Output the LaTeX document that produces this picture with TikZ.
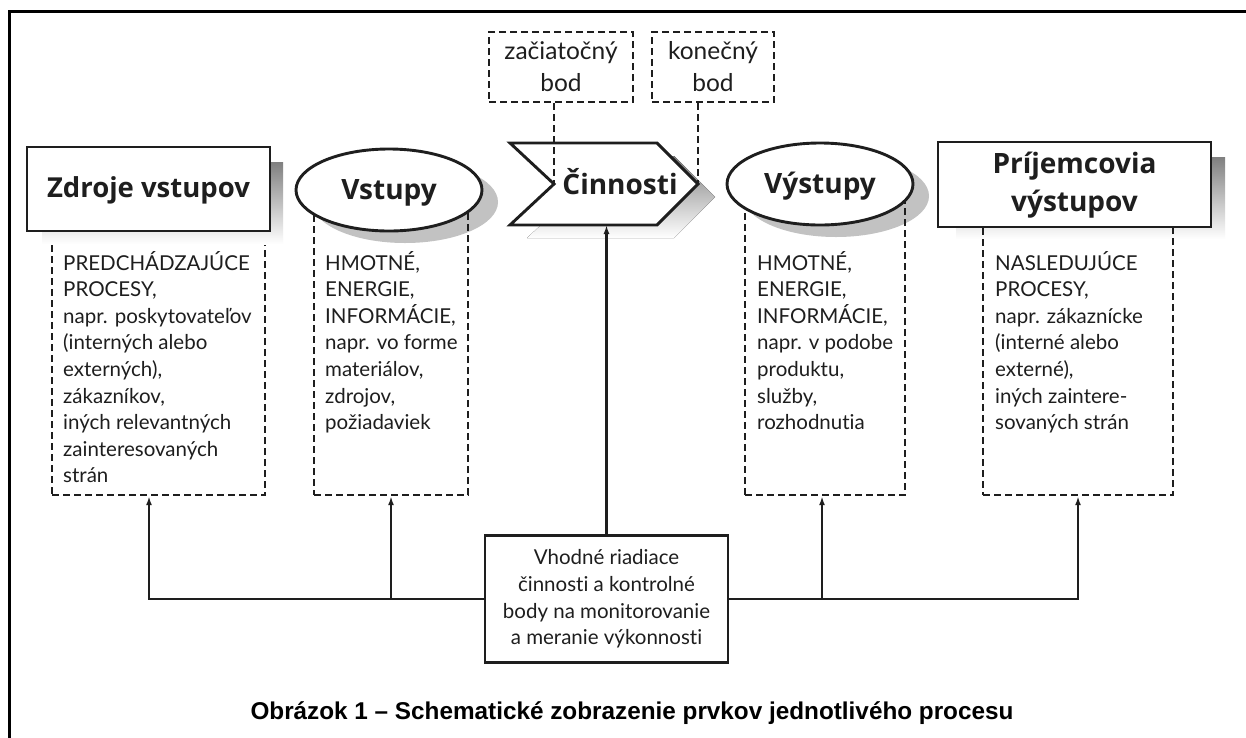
\documentclass[tikz,border=0pt]{standalone}
\usepackage{fontspec}
\setmainfont{Lato}[Ligatures=NoCommon, Contextuals=NoAlternate]
\newfontfamily\headfont{Open Sans}
\newfontfamily\capfont{Liberation Sans}
\usetikzlibrary{shapes.geometric,arrows.meta}
\definecolor{shade}{RGB}{194,194,194}
\definecolor{ink}{RGB}{30,30,30}
\begin{document}
\begin{tikzpicture}[x=1pt,y=-1pt,
  mainline/.style={line width=2.9pt, draw=ink},
  dashbox/.style={draw=ink, line width=2.4pt, dash pattern=on 7pt off 4pt, inner sep=0pt},
  dashline/.style={draw=ink, line width=2.4pt, dash pattern=on 7pt off 4pt},
  bodytext/.style={font=\fontsize{20.5}{26.6}\selectfont, align=left, anchor=base west, inner sep=0pt, text=ink},
  headtext/.style={font=\headfont\bfseries\fontsize{28}{38}\selectfont, text=ink, align=center},
  conn/.style={line width=2.4pt, draw=ink, -{Latex[length=9pt,width=6pt]}},
  ell/.style={ellipse, minimum width=186pt, minimum height=82pt, inner sep=0pt}]
\clip (0,0) rectangle (1246,737);
\fill[white] (0,0) rectangle (1246,737);
\draw[line width=3pt] (9,11) rectangle (1262,762);

% ---------- Zdroje vstupov
\node[dashbox, minimum width=213pt, minimum height=264pt] (zbox) at (158.5,363) {};
\fill[shade] (42,162) rectangle (283,244);
\node[mainline, fill=white, minimum width=243pt, minimum height=84pt, inner sep=0pt, headtext, font=\headfont\bfseries\fontsize{27.5}{38}\selectfont, text height=20pt, text depth=4pt] (zdroje) at (148.5,189) {Zdroje vstupov};
\node[bodytext] (ztext) at (63,482.8) {PREDCHÁDZAJÚCE\\PROCESY,\\napr. poskytovateľov\\(interných alebo\\externých),\\zákazníkov,\\iných relevantných\\zainteresovaných\\strán};

% ---------- Vstupy
\node[ell, fill=shade] (vshadow) at (405,202) {};
\node[dashbox, minimum width=154pt, minimum height=305pt] (vbox) at (391,342.5) {};
\node[ell, mainline, fill=white, headtext, text height=20pt, text depth=1pt] (vstupy) at (389,190) {Vstupy};
\node[bodytext] (vtext) at (325,429.6) {HMOTNÉ,\\ENERGIE,\\INFORMÁCIE,\\napr. vo forme\\materiálov,\\zdrojov,\\požiadaviek};

% ---------- Cinnosti
\fill[shade] (527,156) -- (674,156) -- (715,197) -- (674,238) -- (527,238) -- (571,197) -- cycle;
\draw[mainline, fill=white] (510,143) -- (657,143) -- (698,184) -- (657,225) -- (510,225) -- (554,184) -- cycle;
\node[headtext, text height=20pt, text depth=0pt, inner sep=0pt] (cinn) at (620,184) {Činnosti};
\coordinate (notch) at (554,184);
\coordinate (tip) at (698,184);
\coordinate (cinnbot) at (606.5,225);

\node[dashbox, minimum width=144pt, minimum height=70pt, font=\fontsize{24.5}{32}\selectfont, text=ink, align=center] (zac) at (561,67) {začiatočný\\bod};
\node[dashbox, minimum width=122pt, minimum height=70pt, font=\fontsize{24.5}{32}\selectfont, text=ink, align=center] (kon) at (713,67) {konečný\\bod};
\draw[dashline] (zac.south -| notch) -- (notch);
\draw[dashline] (kon.south -| tip) -- (tip);

% ---------- Vystupy
\node[ell, fill=shade] (yshadow) at (836,196) {};
\node[dashbox, minimum width=160pt, minimum height=311pt] (ybox) at (825,339.5) {};
\node[ell, mainline, fill=white, headtext, text height=20pt, text depth=2pt] (vystupy) at (820,184) {Výstupy};
\node[bodytext] (ytext) at (757,429.6) {HMOTNÉ,\\ENERGIE,\\INFORMÁCIE,\\napr. v podobe\\produktu,\\služby,\\rozhodnutia};

% ---------- Prijemcovia vystupov
\fill[shade] (956,157) rectangle (1225,239);
\node[dashbox, minimum width=190pt, minimum height=268pt] (pbox) at (1078,361) {};
\node[mainline, fill=white, minimum width=273pt, minimum height=85pt, inner sep=0pt] (prij) at (1074.5,184.5) {};
\node[headtext, anchor=base, inner sep=0pt] (prijtext) at (1074.5,211) {Príjemcovia\\výstupov};
\node[bodytext] (ptext) at (995,429.6) {NASLEDUJÚCE\\PROCESY,\\napr. zákaznícke\\(interné alebo\\externé),\\iných zaintere-\\sovaných strán};

% ---------- Control box
\node[draw=ink, line width=2.5pt, minimum width=243pt, minimum height=127pt, inner sep=0pt, align=center, text=ink, font=\fontsize{20.5}{26.6}\selectfont] (ctrl) at (606.5,599) {Vhodné riadiace\\činnosti a kontrolné\\body na monitorovanie\\a meranie výkonnosti};

\draw[conn] (ctrl.west) -| ([xshift=-9.5pt]zbox.south);
\draw[conn] (ctrl.west) -| (vbox.south);
\draw[conn] (ctrl.east) -| ([xshift=-3pt]ybox.south);
\draw[conn] (ctrl.east) -| (pbox.south);
\draw[conn] (ctrl.north) -- (cinnbot);

% ---------- Caption
\node[font=\capfont\bfseries\fontsize{24.3}{29}\selectfont] (caption) at (632,713) {Obrázok 1 – Schematické zobrazenie prvkov jednotlivého procesu};
\end{tikzpicture}
\end{document}
